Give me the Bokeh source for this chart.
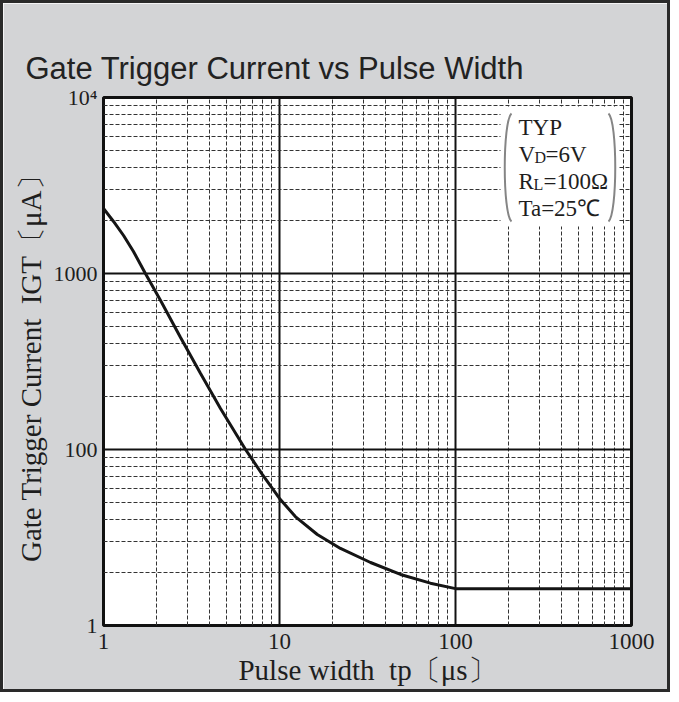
from bokeh.plotting import figure
from bokeh.models import Range1d, FixedTicker, Label
from bokeh.embed import file_html
from bokeh.resources import INLINE

# ---- data ----
pulse_width_us = [1, 1.14, 1.30, 1.48, 1.73, 2.11, 2.74, 3.56, 4.62, 6.41, 8.0, 10,
                  12.3, 16.4, 22.2, 32.9, 48.7, 72, 100, 1000]
igt_uA = [2340, 1975, 1644, 1334, 1000, 703, 433, 270, 171, 100, 72, 52.7,
          41.6, 32.9, 27.4, 22.8, 19.5, 17.4, 16.2, 16.2]

x_ticks = [1, 10, 100, 1000]
x_tick_labels = ["1", "10", "100", "1000"]
y_ticks = [10, 100, 1000, 10000]
y_tick_labels = ["1", "100", "1000", "10\u2074"]

title_text = "Gate Trigger Current vs Pulse Width"
x_label = "Pulse width \u00a0tp\u3014\u03bcs\u3015"
y_label = "Gate Trigger Current \u00a0IGT\u3014\u03bcA\u3015"
cond_lines = [("TYP", "", ""), ("V", "D", "=6V"), ("R", "L", "=100\u03a9"), ("Ta=25\u2103", "", "")]

SERIF = "Liberation Serif"
INK = "#1e1e1e"
BG = "#d3d4d6"

# ---- geometry (page pixels) ----
ORG = 3                 # canvas origin on the page (inside the border)
TOTAL_W, TOTAL_H = 670, 692
FRAME = 528
FX0, FY0 = 103, 97      # frame top-left on the page
FY1 = FY0 + FRAME

p = figure(width=TOTAL_W, height=TOTAL_H, x_axis_type="log", y_axis_type="log",
           x_range=Range1d(1, 1000), y_range=Range1d(10, 10000),
           output_backend="svg", toolbar_location=None,
           min_border_left=FX0 - ORG,
           min_border_right=TOTAL_W - (FX0 - ORG) - FRAME,
           min_border_top=FY0 - ORG,
           min_border_bottom=TOTAL_H - (FY0 - ORG) - FRAME)
p.styles = {"border": "3px solid #2a2a2a"}
p.background_fill_color = "white"
p.border_fill_color = BG
p.outline_line_color = "#111111"
p.outline_line_width = 3

p.title.text = title_text
p.title.text_font = "Liberation Sans"
p.title.text_font_size = "31px"
p.title.text_font_style = "normal"
p.title.text_color = "#222222"
p.title.align = "left"
p.title.offset = -78
p.title.standoff = 23

minor_x = [m * 10 ** d for d in range(0, 3) for m in range(2, 10)]
minor_y = [m * 10 ** d for d in range(1, 4) for m in range(2, 10)]

p.xaxis.ticker = FixedTicker(ticks=x_ticks, minor_ticks=minor_x)
p.yaxis.ticker = FixedTicker(ticks=y_ticks, minor_ticks=minor_y)
p.xaxis.major_label_overrides = {float(t): s for t, s in zip(x_ticks, x_tick_labels)}
p.yaxis.major_label_overrides = {float(t): s for t, s in zip(y_ticks, y_tick_labels)}

for ax in (p.xaxis[0], p.yaxis[0]):
    ax.axis_line_color = None
    ax.major_tick_line_color = None
    ax.minor_tick_line_color = None
    ax.major_tick_out = 0
    ax.minor_tick_out = 0
    ax.major_tick_in = 0
    ax.minor_tick_in = 0
    ax.major_label_text_font = SERIF
    ax.major_label_text_color = INK
    ax.axis_label_text_font = SERIF
    ax.axis_label_text_font_style = "normal"
    ax.axis_label_text_color = INK

p.xaxis.major_label_text_font_size = "23px"
p.yaxis.major_label_text_font_size = "22px"
p.xaxis.major_label_standoff = 8
p.yaxis.major_label_standoff = 6
p.xaxis.axis_label = x_label
p.xaxis.axis_label_text_font_size = "29px"
p.xaxis.axis_label_standoff = 2
p.yaxis.axis_label = y_label
p.yaxis.axis_label_text_font_size = "29px"
p.yaxis.axis_label_standoff = 4

for g in (p.xgrid[0], p.ygrid[0]):
    g.grid_line_color = "#111111"
    g.grid_line_width = 2
    g.minor_grid_line_color = "#333333"
    g.minor_grid_line_width = 1
    g.minor_grid_line_dash = "4 2"

p.line(pulse_width_us, igt_uA, line_color="#151515", line_width=3)

# page pixel -> data
DEC = FRAME / 3.0

def dx(px):
    return 10 ** ((px - FX0) / DEC)

def dy(py):
    return 10 ** (1 + (FY1 - py) / DEC)

# ---- conditions box ----
box_l, box_r, box_t, box_b = 500, 618, 106, 226
p.quad(left=[dx(box_l)], right=[dx(box_r)], top=[dy(box_t)], bottom=[dy(box_b)],
       fill_color="white", line_color=None)

cx0 = 518
base_y = [135, 162, 189, 216]
big, small = 23, 16
MID = 0.3375   # (ascent - descent) / 2 for the serif font, in em
sub_shift = {"D": (16, 11), "L": (15, 10)}
for (a, sub, rest), by in zip(cond_lines, base_y):
    yb = dy(by - MID * big)
    p.add_layout(Label(x=dx(cx0), y=yb, text=a, text_font=SERIF,
                       text_font_size=f"{big}px", text_color=INK,
                       text_align="left", text_baseline="middle"))
    if sub:
        w_a, w_s = sub_shift[sub]
        p.add_layout(Label(x=dx(cx0), y=dy(by - MID * small), x_offset=w_a, text=sub,
                           text_font=SERIF, text_font_size=f"{small}px", text_color=INK,
                           text_align="left", text_baseline="middle"))
        p.add_layout(Label(x=dx(cx0), y=yb, x_offset=w_a + w_s, text=rest, text_font=SERIF,
                           text_font_size=f"{big}px", text_color=INK,
                           text_align="left", text_baseline="middle"))

top, bot = 113, 221
for xe, xc in ((511, 502), (608, 617)):
    p.bezier(x0=[dx(xe)], y0=[dy(top)], x1=[dx(xe)], y1=[dy(bot)],
             cx0=[dx(xc)], cy0=[dy(top + 8)], cx1=[dx(xc)], cy1=[dy(bot - 8)],
             line_color="#858585", line_width=2)

open("out.html", "w").write(file_html(p, INLINE))
